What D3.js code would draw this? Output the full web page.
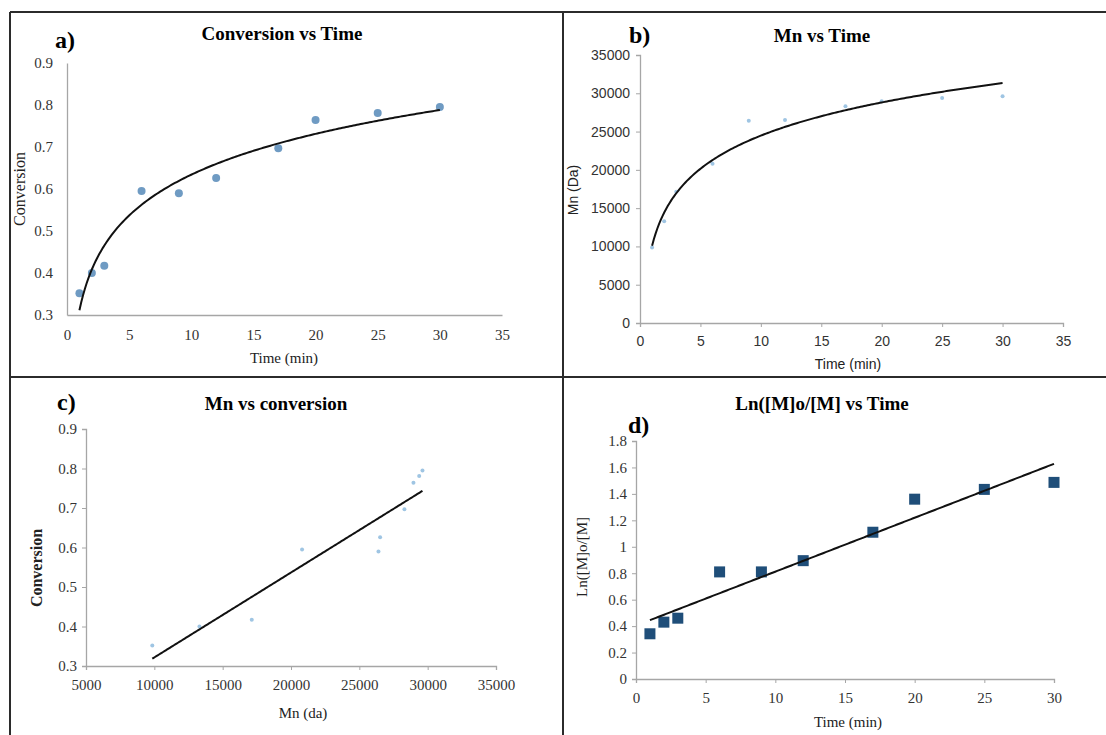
<!DOCTYPE html>
<html>
<head>
<meta charset="utf-8">
<script src="https://cdn.jsdelivr.net/npm/d3@7"></script>
<style>
  body { margin: 0; background: #fff; }
  svg { display: block; }
  .serif { font-family: "Liberation Serif", "Times New Roman", serif; }
  .sans { font-family: "Liberation Sans", Arial, sans-serif; }
</style>
</head>
<body>
<svg width="1106" height="735"></svg>
<script>
const time = [1, 2, 3, 6, 9, 12, 17, 20, 25, 30]
const conversion = [0.352, 0.40, 0.417, 0.595, 0.59, 0.626, 0.697, 0.764, 0.781, 0.795]
const mn = [9850, 13300, 17130, 20810, 26400, 26520, 28300, 28960, 29380, 29620]
const lnRatio = [0.342, 0.43, 0.46, 0.81, 0.81, 0.895, 1.11, 1.36, 1.434, 1.487]

// tick labels
const timeTicks35 = [0, 5, 10, 15, 20, 25, 30, 35]
const timeTicks30 = [0, 5, 10, 15, 20, 25, 30]
const convTicks = [0.3, 0.4, 0.5, 0.6, 0.7, 0.8, 0.9]
const mnTicks = [0, 5000, 10000, 15000, 20000, 25000, 30000, 35000]
const mnTicksC = [5000, 10000, 15000, 20000, 25000, 30000, 35000]
const lnTicks = [0, 0.2, 0.4, 0.6, 0.8, 1, 1.2, 1.4, 1.6, 1.8]

const svg = d3.select("svg")

// least squares fit y = a*f(x) + b
function fit(xs, ys, f) {
    const u = xs.map(f)
    const mu = d3.mean(u), my = d3.mean(ys)
    let sxy = 0, sxx = 0
    for (let i = 0; i < u.length; i++) {
        sxy += (u[i] - mu) * (ys[i] - my)
        sxx += (u[i] - mu) * (u[i] - mu)
    }
    const a = sxy / sxx
    return x => a * f(x) + my - a * mu
}

// frame lines
const frame = svg.append("g").attr("stroke", "#2b2b2b").attr("stroke-width", 2)
frame.append("line").attr("x1", 10).attr("x2", 1106).attr("y1", 12).attr("y2", 12)
frame.append("line").attr("x1", 10).attr("x2", 10).attr("y1", 12).attr("y2", 735)
frame.append("line").attr("x1", 563).attr("x2", 563).attr("y1", 12).attr("y2", 735)
frame.append("line").attr("x1", 10).attr("x2", 1106).attr("y1", 377).attr("y2", 377)

function panel(p) {
    const g = svg.append("g")
    const x = d3.scaleLinear().domain(p.xDomain).range(p.xRange)
    const y = d3.scaleLinear().domain(p.yDomain).range(p.yRange)

    const xAxis = g.append("g").attr("transform", `translate(0,${p.yRange[0]})`)
        .call(d3.axisBottom(x).tickValues(p.xTicks).tickSize(p.tick).tickPadding(p.padX).tickFormat(p.xFmt || d3.format("")))
    const yAxis = g.append("g").attr("transform", `translate(${p.xRange[0]},0)`)
        .call(d3.axisLeft(y).tickValues(p.yTicks).tickSize(p.tick).tickPadding(p.padY).tickFormat(p.yFmt || d3.format("")))
    for (const ax of [xAxis, yAxis]) {
        ax.select(".domain").attr("stroke", "#a6a6a6").attr("stroke-width", 1.3)
        ax.selectAll(".tick line").attr("stroke", "#a6a6a6")
        ax.selectAll("text").attr("class", p.tickFont).attr("font-size", p.tickSize).attr("fill", "#333")
    }

    // trendline
    const f = fit(p.xs, p.ys, p.fitFn)
    const xsLine = d3.range(0, 201).map(i => p.xs[0] + (p.xs[p.xs.length - 1] - p.xs[0]) * i / 200)
    const line = d3.line().x(d => x(d)).y(d => y(f(d)))

    // markers
    const pts = p.xs.map((v, i) => [v, p.ys[i]])
    if (p.marker === "square") {
        g.selectAll("rect.pt").data(pts).enter().append("rect")
            .attr("x", d => x(d[0]) - 5.5).attr("y", d => y(d[1]) - 5.5)
            .attr("width", 11).attr("height", 11).attr("fill", "#1f4e79")
    } else {
        g.selectAll("circle.pt").data(pts).enter().append("circle")
            .attr("cx", d => x(d[0])).attr("cy", d => y(d[1]))
            .attr("r", p.r).attr("fill", p.color)
    }

    g.append("path").datum(xsLine).attr("d", line)
        .attr("fill", "none").attr("stroke", "#111").attr("stroke-width", 2)

    // texts
    g.append("text").attr("class", "serif").attr("font-weight", "bold").attr("font-size", 19)
        .attr("text-anchor", "middle").attr("x", p.title[1]).attr("y", p.title[2]).text(p.title[0])
    g.append("text").attr("class", "serif").attr("font-weight", "bold").attr("font-size", 24)
        .attr("x", p.tag[1]).attr("y", p.tag[2]).text(p.tag[0])
    g.append("text").attr("class", p.labelFont).attr("font-size", p.yLabelSize).attr("font-weight", p.yBold ? "bold" : null)
        .attr("fill", "#222").attr("text-anchor", "middle")
        .attr("transform", `translate(${p.yLabel[1]},${p.yLabel[2]}) rotate(-90)`).text(p.yLabel[0])
    g.append("text").attr("class", p.labelFont).attr("font-size", p.xLabelSize)
        .attr("fill", "#222").attr("text-anchor", "middle")
        .attr("x", p.xLabel[1]).attr("y", p.xLabel[2]).text(p.xLabel[0])
}

panel({
    xs: time, ys: conversion, fitFn: Math.log,
    xDomain: [0, 35], xRange: [67, 502], yDomain: [0.3, 0.9], yRange: [315, 63],
    xTicks: timeTicks35, yTicks: convTicks, yFmt: d3.format(".1f"),
    tick: 0, padX: 14, padY: 14, tickFont: "serif", tickSize: 15,
    marker: "circle", r: 4, color: "#6f9bc3",
    title: ["Conversion vs Time", 282, 40], tag: ["a)", 55, 48],
    yLabel: ["Conversion", 25, 189], xLabel: ["Time (min)", 284, 363],
    labelFont: "serif", yLabelSize: 16, xLabelSize: 15
})

panel({
    xs: time, ys: mn, fitFn: Math.log,
    xDomain: [0, 35], xRange: [640, 1063], yDomain: [0, 35000], yRange: [323, 55],
    xTicks: timeTicks35, yTicks: mnTicks,
    tick: 4, padX: 9, padY: 6, tickFont: "sans", tickSize: 14,
    marker: "circle", r: 2, color: "#9fc5e3",
    title: ["Mn vs Time", 822, 42], tag: ["b)", 629, 43],
    yLabel: ["Mn (Da)", 578, 190], xLabel: ["Time (min)", 848, 369],
    labelFont: "sans", yLabelSize: 14, xLabelSize: 14
})

panel({
    xs: mn, ys: conversion, fitFn: d => d,
    xDomain: [5000, 35000], xRange: [86, 496], yDomain: [0.3, 0.9], yRange: [666, 429],
    xTicks: mnTicksC, yTicks: convTicks, yFmt: d3.format(".1f"),
    tick: 4, padX: 9, padY: 5, tickFont: "serif", tickSize: 15,
    marker: "circle", r: 2, color: "#9fc5e3",
    title: ["Mn vs conversion", 276, 410], tag: ["c)", 57, 410],
    yLabel: ["Conversion", 42, 568], yBold: true, xLabel: ["Mn (da)", 303, 718],
    labelFont: "serif", yLabelSize: 16, xLabelSize: 15
})

panel({
    xs: time, ys: lnRatio, fitFn: d => d,
    xDomain: [0, 30], xRange: [636, 1054], yDomain: [0, 1.8], yRange: [679, 441],
    xTicks: timeTicks30, yTicks: lnTicks,
    tick: 4, padX: 9, padY: 5, tickFont: "serif", tickSize: 15,
    marker: "square",
    title: ["Ln([M]o/[M] vs Time", 822, 410], tag: ["d)", 628, 433],
    yLabel: ["Ln([M]o/[M]", 587, 557], xLabel: ["Time (min)", 848, 727],
    labelFont: "serif", yLabelSize: 15, xLabelSize: 15
})
</script>
</body>
</html>
